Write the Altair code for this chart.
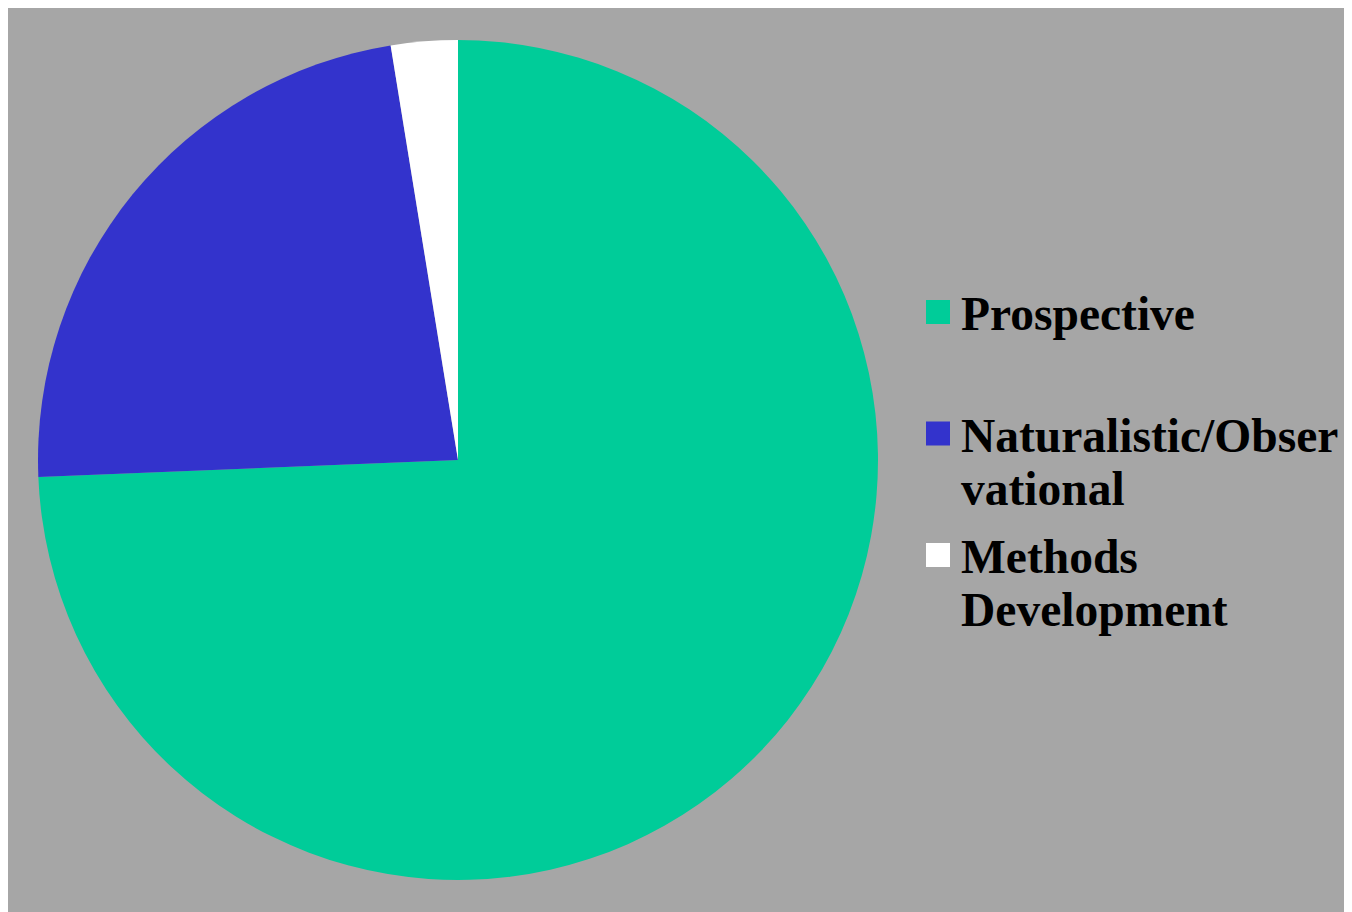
import altair as alt
import pandas as pd

categories = ["Prospective", "Naturalistic/Observational", "Methods Development"]
legend_labels = ["Prospective", "Naturalistic/Obser\nvational", "Methods\nDevelopment"]
counts = [29, 9, 1]
colors = ["#00CC99", "#3333CC", "#FFFFFF"]

df = pd.DataFrame({
    "category": categories,
    "label": legend_labels,
    "count": counts,
    "order": list(range(len(categories))),
})

color_scale = alt.Scale(domain=categories, range=colors)

pie = alt.Chart(df).mark_arc(radius=420, stroke=None).encode(
    theta=alt.Theta("count:Q", stack=True),
    color=alt.Color("category:N", scale=color_scale, legend=None),
    order=alt.Order("order:Q"),
    x=alt.value(450),
    y=alt.value(452),
)

ypos = alt.Y("category:N", sort=categories,
             scale=alt.Scale(type="point", range=[304, 547], padding=0), axis=None)

squares = alt.Chart(df).mark_square(size=576, opacity=1, strokeWidth=0).encode(
    x=alt.value(930),
    y=ypos,
    color=alt.Color("category:N", scale=color_scale, legend=None),
)

texts = alt.Chart(df).mark_text(
    align="left", baseline="alphabetic", dy=18, lineBreak="\n", lineHeight=53,
    font="Liberation Serif", fontWeight="bold", fontSize=47.5, color="#000000",
).encode(
    x=alt.value(953),
    y=ypos,
    text="label:N",
)

chart = alt.layer(pie, squares, texts).properties(
    width=1336, height=904, padding=0, background="#A6A6A6"
).configure_view(stroke=None)

chart.save("out.html", embed_options={"renderer": "svg", "actions": False})
